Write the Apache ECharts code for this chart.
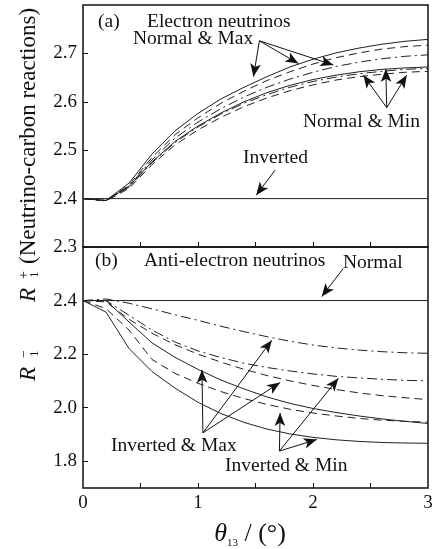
<!DOCTYPE html>
<html>
<head>
<meta charset="UTF-8">
<title>R1 ratio vs theta13</title>
<script src="https://cdn.jsdelivr.net/npm/echarts@6/dist/echarts.min.js"></script>
<style>
html,body{margin:0;padding:0;background:#fff}
#main{width:442px;height:549px}
</style>
</head>
<body>
<div id="main"></div>
<script>
var theta = [0,0.2,0.4,0.6,0.8,1.0,1.2,1.4,1.6,1.8,2.0,2.2,2.4,2.6,2.8,3.0];

// (a) electron neutrinos
var aMaxSolid   = [2.400,2.396,2.432,2.492,2.540,2.576,2.606,2.630,2.652,2.672,2.688,2.701,2.711,2.719,2.725,2.729];
var aMaxDashed  = [2.400,2.396,2.428,2.485,2.532,2.567,2.597,2.622,2.644,2.662,2.678,2.691,2.701,2.709,2.714,2.717];
var aMaxDashDot = [2.400,2.396,2.426,2.480,2.525,2.558,2.586,2.610,2.630,2.647,2.661,2.673,2.682,2.689,2.694,2.697];
var aMinSolid   = [2.400,2.396,2.425,2.476,2.518,2.550,2.577,2.600,2.619,2.634,2.646,2.655,2.662,2.667,2.670,2.672];
var aMinDashDot = [2.400,2.396,2.424,2.474,2.516,2.548,2.575,2.597,2.615,2.630,2.642,2.651,2.658,2.663,2.667,2.669];
var aMinDashed  = [2.400,2.395,2.421,2.470,2.511,2.542,2.568,2.590,2.608,2.623,2.635,2.645,2.652,2.657,2.661,2.663];
var aInverted   = [2.4,2.4,2.4,2.4,2.4,2.4,2.4,2.4,2.4,2.4,2.4,2.4,2.4,2.4,2.4,2.4];

// (b) anti-electron neutrinos
var bMaxSolid   = [2.400,2.400,2.320,2.242,2.188,2.143,2.103,2.070,2.040,2.016,1.997,1.982,1.969,1.958,1.949,1.941];
var bMinSolid   = [2.400,2.357,2.221,2.135,2.073,2.020,1.978,1.945,1.920,1.902,1.889,1.880,1.874,1.870,1.868,1.867];
var bMaxDashed  = [2.400,2.395,2.330,2.278,2.235,2.200,2.170,2.143,2.120,2.100,2.083,2.068,2.055,2.045,2.037,2.030];
var bMinDashed  = [2.400,2.370,2.290,2.180,2.128,2.091,2.060,2.034,2.012,1.994,1.980,1.969,1.960,1.953,1.949,1.946];
var bMaxDashDot = [2.400,2.406,2.390,2.369,2.347,2.326,2.304,2.284,2.265,2.248,2.234,2.223,2.215,2.209,2.205,2.203];
var bMinDashDot = [2.400,2.400,2.345,2.290,2.245,2.212,2.187,2.166,2.150,2.137,2.126,2.117,2.111,2.106,2.102,2.100];
var bNormal     = [2.4,2.4,2.4,2.4,2.4,2.4,2.4,2.4,2.4,2.4,2.4,2.4,2.4,2.4,2.4,2.4];

// ticks and labels
var aYTicks = [2.3,2.4,2.5,2.6,2.7];
var bYTicks = [1.8,2.0,2.2,2.4];
var xTicks = [0.5,1,1.5,2,2.5];
var xLabels = [0,1,2,3];

// annotation arrows [from, to] in data units
var arrowsA = [
  [[1.534,2.726],[1.482,2.652]],
  [[1.534,2.726],[1.873,2.679]],
  [[1.534,2.726],[2.177,2.676]],
  [[2.641,2.588],[2.438,2.655]],
  [[2.641,2.588],[2.633,2.668]],
  [[2.641,2.588],[2.815,2.655]],
  [[1.671,2.459],[1.506,2.407]]
];
var arrowsB = [
  [[2.262,2.519],[2.076,2.415]],
  [[1.043,1.906],[1.034,2.141]],
  [[1.043,1.906],[1.642,2.252]],
  [[1.043,1.906],[1.714,2.094]],
  [[1.708,1.838],[1.714,1.980]],
  [[1.708,1.838],[2.221,2.110]],
  [[1.708,1.838],[2.033,1.881]]
];

var FONT = 'Liberation Serif';
var INK = '#111';
var DASH = [8,5];
var DASHDOT = [10,4,2,4];

function pts(arr){
  return theta.map(function(t,i){ return [t, arr[i]]; });
}
function curve(arr, type, grid){
  return {
    type:'line', xAxisIndex:grid, yAxisIndex:grid,
    data:pts(arr), showSymbol:false, silent:true,
    lineStyle:{color:'#222', width:1, type:type}
  };
}
function arrows(list){
  return {
    silent:true, symbol:['none','arrow'], symbolSize:[8,13],
    label:{show:false}, emphasis:{disabled:true},
    lineStyle:{color:INK, width:1, type:'solid'},
    data:list.map(function(a){ return [{coord:a[0]},{coord:a[1]}]; })
  };
}
function txt(s, x, y, size, extra){
  var st = {text:s, x:0, y:0, fill:INK, font: (size||19.5)+'px "'+FONT+'"', align:'left', verticalAlign:'middle'};
  var el = {type:'text', x:x, y:y, style:st, silent:true};
  if (extra) for (var k in extra) el[k] = extra[k];
  return el;
}
function vtxt(s, x, y, size, italic){
  var st = {text:s, x:0, y:0, fill:INK, font:(italic?'italic ':'')+size+'px "'+FONT+'"', align:'left', verticalAlign:'middle'};
  return {type:'text', x:x, y:y, rotation:Math.PI/2, style:st, silent:true};
}

var xAxisBase = {
  type:'value', min:0, max:3,
  axisLine:{show:false}, splitLine:{show:false},
  axisTick:{show:true, inside:true, length:5, customValues:xTicks, lineStyle:{color:INK, width:1}}
};
var yAxisBase = {
  type:'value',
  axisLine:{show:false}, splitLine:{show:false},
  axisLabel:{color:INK, fontFamily:FONT, fontSize:19, margin:6, formatter:function(v){ return v.toFixed(1); }}
};

var chart = echarts.init(document.getElementById('main'));
var series = [
  curve(aMaxSolid,'solid',0), curve(aMaxDashed,DASH,0), curve(aMaxDashDot,DASHDOT,0),
  curve(aMinSolid,'solid',0), curve(aMinDashDot,DASHDOT,0), curve(aMinDashed,DASH,0),
  curve(bMaxSolid,'solid',1), curve(bMinSolid,'solid',1),
  curve(bMaxDashed,DASH,1), curve(bMinDashed,DASH,1),
  curve(bMaxDashDot,DASHDOT,1), curve(bMinDashDot,DASHDOT,1)
];
var inv = curve(aInverted,'solid',0); inv.markLine = arrows(arrowsA); series.push(inv);
var nor = curve(bNormal,'solid',1); nor.markLine = arrows(arrowsB); series.push(nor);

chart.setOption({
  animation:false,
  backgroundColor:'#fff',
  grid:[
    {left:83, right:14, top:5, height:242, show:true, borderColor:INK, borderWidth:1.5},
    {left:83, right:14, top:247, height:241, show:true, borderColor:INK, borderWidth:1.5}
  ],
  xAxis:[
    echarts.util.merge({gridIndex:0, axisLabel:{show:false}}, xAxisBase),
    echarts.util.merge({gridIndex:1, axisLabel:{show:true, customValues:xLabels, color:INK, fontFamily:FONT, fontSize:19, margin:6,
      formatter:function(v){ return String(v); }}}, xAxisBase)
  ],
  yAxis:[
    echarts.util.merge({gridIndex:0, min:2.3, max:2.8,
      axisTick:{show:true, inside:true, length:5, customValues:aYTicks, lineStyle:{color:INK}},
      axisLabel:{customValues:aYTicks}}, yAxisBase),
    echarts.util.merge({gridIndex:1, min:1.7, max:2.6,
      axisTick:{show:true, inside:true, length:5, customValues:bYTicks, lineStyle:{color:INK}},
      axisLabel:{customValues:bYTicks}}, yAxisBase)
  ],
  series:series,
  graphic:[
    txt('(a)', 98, 22),
    txt('Electron neutrinos', 147, 22),
    txt('Normal & Max', 133, 39),
    txt('Normal & Min', 303, 122),
    txt('Inverted', 243, 158),
    txt('(b)', 95, 261),
    txt('Anti-electron neutrinos', 144, 261),
    txt('Normal', 343, 263),
    txt('Inverted & Max', 111, 446),
    txt('Inverted & Min', 225, 466),
    vtxt('R', 29, 302, 23, true),
    vtxt('+', 24, 279, 14),
    vtxt('1', 35, 278, 13),
    vtxt('(Neutrino-carbon reactions)', 29, 264, 23),
    vtxt('R', 29, 381, 23, true),
    vtxt('\u2212', 24, 358, 14),
    vtxt('1', 35, 357, 13),
    {type:'text', x:250, y:534, silent:true, style:{
      text:'{i|\u03b8}{s|13}{t| / (\u00b0)}', x:0, y:0, align:'center', verticalAlign:'middle', fill:INK,
      rich:{
        i:{fontFamily:FONT, fontStyle:'italic', fontSize:26, lineHeight:30, verticalAlign:'middle', fill:INK},
        s:{fontFamily:FONT, fontSize:11, lineHeight:11, verticalAlign:'bottom', fill:INK},
        t:{fontFamily:FONT, fontSize:26, lineHeight:30, verticalAlign:'middle', fill:INK}
      }
    }}
  ]
});
</script>
</body>
</html>
